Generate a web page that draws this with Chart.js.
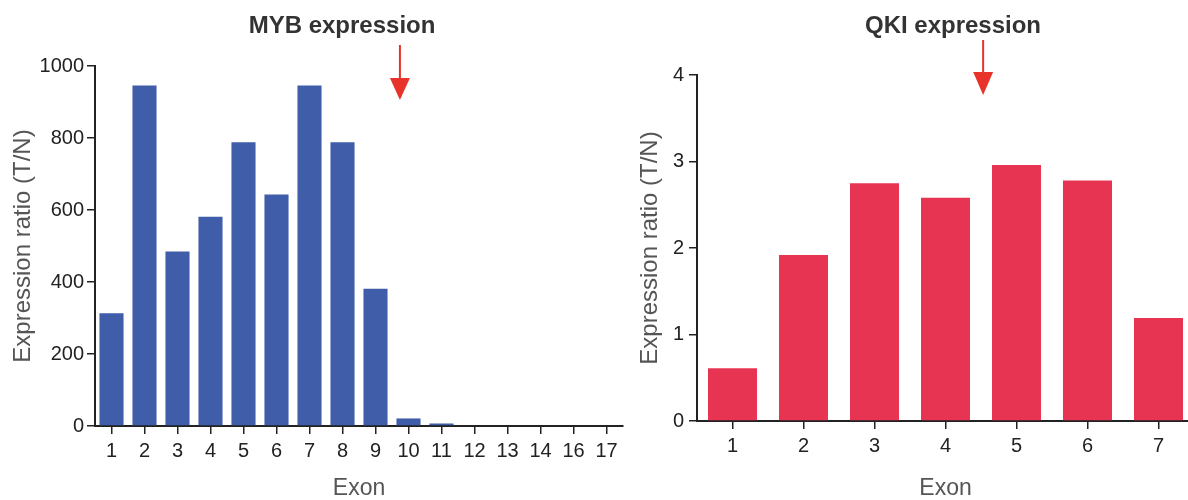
<!DOCTYPE html>
<html>
<head>
<meta charset="utf-8">
<script src="https://cdn.jsdelivr.net/npm/chart.js@4/dist/chart.umd.min.js"></script>
<style>
  html, body { margin: 0; padding: 0; background: #fff; }
  body { width: 1188px; height: 500px; overflow: hidden; position: relative; }
  #myb { position: absolute; left: 0; top: 0; }
  #qki { position: absolute; left: 620px; top: 0; }
</style>
</head>
<body>
<canvas id="myb" width="640" height="500"></canvas>
<canvas id="qki" width="600" height="500"></canvas>
<script>
const mybExons = ['1', '2', '3', '4', '5', '6', '7', '8', '9', '10', '11', '12', '13', '14', '16', '17'];
const mybRatio = [313, 946, 485, 581, 788, 643, 946, 788, 381, 21, 7, 0, 0, 0, 0, 0];
const mybTicks = [0, 200, 400, 600, 800, 1000];

const qkiExons = ['1', '2', '3', '4', '5', '6', '7'];
const qkiRatio = [0.61, 1.92, 2.75, 2.58, 2.96, 2.78, 1.19];
const qkiTicks = [0, 1, 2, 3, 4];

const FONT = '"Liberation Sans", Arial, Helvetica, sans-serif';

// title text + red arrow pointing down at a spot on the x axis
const annotate = {
  id: 'annotate',
  afterDraw(chart, args, opts) {
    const ctx = chart.ctx;
    ctx.save();
    ctx.font = 'bold 24px ' + FONT;
    ctx.fillStyle = '#333';
    ctx.textAlign = 'center';
    ctx.textBaseline = 'alphabetic';
    ctx.fillText(opts.text, opts.titleX, 33);

    const ax = chart.scales.x.getPixelForValue(opts.arrowAt);
    ctx.strokeStyle = '#e8332a';
    ctx.fillStyle = '#e8332a';
    ctx.lineWidth = 2;
    ctx.beginPath();
    ctx.moveTo(ax, opts.arrowTop);
    ctx.lineTo(ax, opts.headTop + 2);
    ctx.stroke();
    ctx.beginPath();
    ctx.moveTo(ax - 10, opts.headTop);
    ctx.lineTo(ax + 10, opts.headTop);
    ctx.lineTo(ax, opts.tip);
    ctx.closePath();
    ctx.fill();
    ctx.restore();
  }
};

function makeChart(id, labels, values, ticks, color, barPct, geo, note) {
  const yMax = ticks[ticks.length - 1];
  return new Chart(document.getElementById(id), {
    type: 'bar',
    data: {
      labels: labels,
      datasets: [{
        data: values,
        backgroundColor: color,
        borderWidth: 0,
        barPercentage: barPct,
        categoryPercentage: 1
      }]
    },
    plugins: [annotate],
    options: {
      responsive: false,
      animation: false,
      events: [],
      layout: { padding: { left: 0, right: geo.right, top: geo.top, bottom: 0 } },
      plugins: {
        legend: { display: false },
        tooltip: { enabled: false },
        annotate: note
      },
      scales: {
        x: {
          offset: true,
          afterFit(scale) { scale.height = geo.xHeight; },
          border: { display: true, color: '#222', width: 2 },
          grid: { display: true, offset: false, drawOnChartArea: false, drawTicks: true, tickLength: 8, color: '#222', lineWidth: 1.5 },
          ticks: { color: '#222', font: { family: FONT, size: 20 }, padding: 5, autoSkip: false, maxRotation: 0 },
          title: { display: true, text: 'Exon', color: '#555', font: { family: FONT, size: 23, lineHeight: 1 }, padding: 0 }
        },
        y: {
          min: 0,
          max: yMax,
          afterFit(scale) { scale.width = geo.yWidth; },
          afterBuildTicks(scale) { scale.ticks = ticks.map(v => ({ value: v })); },
          border: { display: true, color: '#222', width: 2 },
          grid: { display: true, drawOnChartArea: false, drawTicks: true, tickLength: 8, color: '#222', lineWidth: 1.5 },
          ticks: { color: '#222', font: { family: FONT, size: 20 }, padding: geo.tickPad, callback: v => String(v) },
          title: { display: true, text: 'Expression ratio (T/N)', color: '#555', font: { family: FONT, size: 24, lineHeight: 1 }, padding: { top: geo.titlePad, bottom: 0 } }
        }
      }
    }
  });
}

makeChart('myb', mybExons, mybRatio, mybTicks, '#3f5da8', 0.73,
  { right: 17, top: 66, xHeight: 74, yWidth: 95, tickPad: 3, titlePad: 11 },
  { text: 'MYB expression', titleX: 342, arrowAt: 8.74, arrowTop: 45, headTop: 78, tip: 100 });

makeChart('qki', qkiExons, qkiRatio, qkiTicks, '#e83453', 0.69,
  { right: 26, top: 75, xHeight: 79, yWidth: 77, tickPad: 5, titlePad: 18 },
  { text: 'QKI expression', titleX: 333, arrowAt: 3.53, arrowTop: 40, headTop: 72, tip: 95 });
</script>
</body>
</html>
